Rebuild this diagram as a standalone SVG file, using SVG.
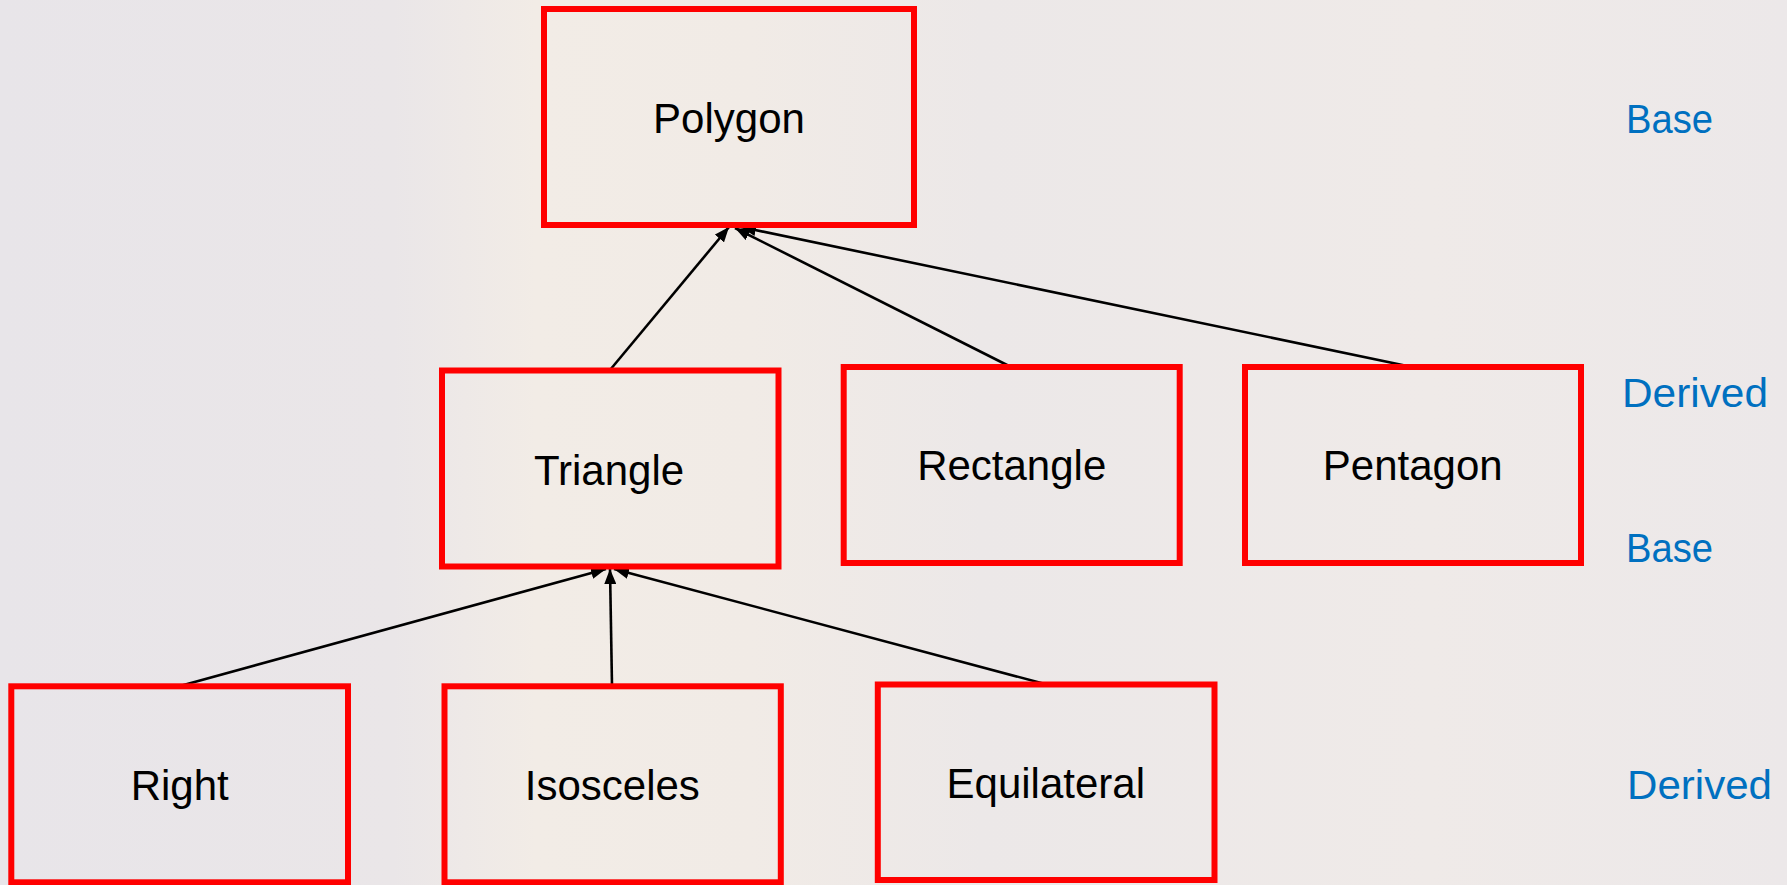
<svg xmlns="http://www.w3.org/2000/svg" width="1787" height="885" viewBox="0 0 1787 885">
<style>
.box{fill:none;stroke:#FF0000;stroke-width:6}
.lbl{font-family:"Liberation Sans",Arial,sans-serif;font-size:42px;fill:#000;text-anchor:middle}
.side{font-family:"Liberation Sans",Arial,sans-serif;font-size:40px;fill:#0070C0}
.conn{stroke:#000;stroke-width:2.6;fill:none;marker-end:url(#arr)}
</style>
<defs>
<marker id="arr" markerUnits="userSpaceOnUse" markerWidth="16" markerHeight="12" refX="15" refY="6" orient="auto">
<path d="M0,0 L15,6 L0,12 z" fill="#000"/>
</marker>
<linearGradient id="bg" x1="0" y1="0" x2="1" y2="0">
<stop offset="0" stop-color="#E8E5E9"/>
<stop offset="0.22" stop-color="#EAE6E8"/>
<stop offset="0.3" stop-color="#F2ECE6"/>
<stop offset="0.42" stop-color="#F1EBE6"/>
<stop offset="0.55" stop-color="#ECE8E8"/>
<stop offset="0.8" stop-color="#EFEAE8"/>
<stop offset="1" stop-color="#ECE8E9"/>
</linearGradient>
</defs>
<g id="background">
<rect x="0" y="0" width="1787" height="885" fill="url(#bg)"/>
</g>
<g id="connectors">
<line class="conn" x1="610" y1="370" x2="729" y2="227"/>
<line class="conn" x1="1011" y1="367" x2="735" y2="228"/>
<line class="conn" x1="1412" y1="367" x2="741" y2="227"/>
<line class="conn" x1="180" y1="686" x2="606" y2="569"/>
<line class="conn" x1="612" y1="686" x2="610" y2="569"/>
<line class="conn" x1="1045" y1="684" x2="614" y2="569"/>
</g>
<g id="node-polygon">
<rect class="box" x="544" y="9" width="370" height="216"/>
<text class="lbl" x="729" y="133">Polygon</text>
</g>
<g id="node-triangle">
<rect class="box" x="442" y="370.5" width="336.5" height="196"/>
<text class="lbl" x="609" y="485">Triangle</text>
</g>
<g id="node-rectangle">
<rect class="box" x="843.7" y="367" width="336" height="196"/>
<text class="lbl" x="1011.7" y="480">Rectangle</text>
</g>
<g id="node-pentagon">
<rect class="box" x="1245" y="367" width="336" height="196"/>
<text class="lbl" x="1412.7" y="480">Pentagon</text>
</g>
<g id="node-right">
<rect class="box" x="11.3" y="686.3" width="336.7" height="196"/>
<text class="lbl" x="179.7" y="800">Right</text>
</g>
<g id="node-isosceles">
<rect class="box" x="444.5" y="686.3" width="336.3" height="196"/>
<text class="lbl" x="612.3" y="800">Isosceles</text>
</g>
<g id="node-equilateral">
<rect class="box" x="877.8" y="684.5" width="336.7" height="195.5"/>
<text class="lbl" x="1045.8" y="798.3">Equilateral</text>
</g>
<g id="side-labels">
<text class="side" x="1626" y="132.7" textLength="87" lengthAdjust="spacingAndGlyphs">Base</text>
<text class="side" x="1622" y="406.7" textLength="146" lengthAdjust="spacingAndGlyphs">Derived</text>
<text class="side" x="1626" y="561.7" textLength="87" lengthAdjust="spacingAndGlyphs">Base</text>
<text class="side" x="1627" y="799.3" textLength="145" lengthAdjust="spacingAndGlyphs">Derived</text>
</g>
</svg>
